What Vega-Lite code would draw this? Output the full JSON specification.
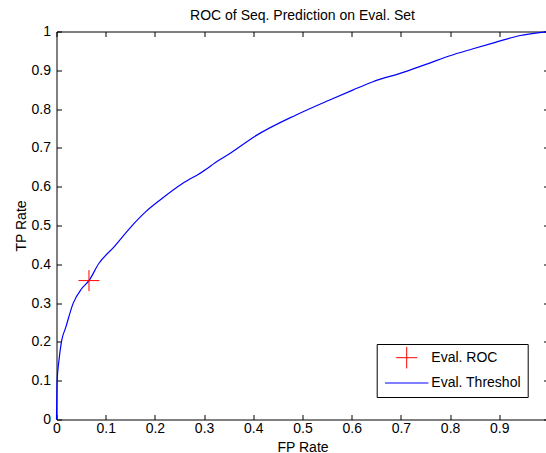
{
  "$schema": "https://vega.github.io/schema/vega-lite/v6.json",
  "width": 492,
  "height": 388,
  "autosize": {"type": "none"},
  "padding": {"left": 56.5, "top": 31.5, "right": 0, "bottom": 33.5},
  "background": "white",
  "title": {
    "text": "ROC of Seq. Prediction on Eval. Set",
    "font": "Liberation Sans",
    "fontSize": 14,
    "fontWeight": "normal",
    "color": "black",
    "baseline": "alphabetic",
    "offset": -9.5,
    "anchor": "middle"
  },
  "datasets": {
    "roc": [
      {"x": 0, "y": 0},
      {"x": 0.0005, "y": 0.05},
      {"x": 0.0013, "y": 0.1},
      {"x": 0.005, "y": 0.152},
      {"x": 0.010, "y": 0.2},
      {"x": 0.019, "y": 0.238},
      {"x": 0.034, "y": 0.300},
      {"x": 0.051, "y": 0.337},
      {"x": 0.066, "y": 0.358},
      {"x": 0.086, "y": 0.402},
      {"x": 0.117, "y": 0.445},
      {"x": 0.151, "y": 0.496},
      {"x": 0.181, "y": 0.535},
      {"x": 0.215, "y": 0.570},
      {"x": 0.256, "y": 0.608},
      {"x": 0.296, "y": 0.638},
      {"x": 0.330, "y": 0.668},
      {"x": 0.354, "y": 0.687},
      {"x": 0.402, "y": 0.729},
      {"x": 0.487, "y": 0.785},
      {"x": 0.554, "y": 0.823},
      {"x": 0.602, "y": 0.849},
      {"x": 0.642, "y": 0.870},
      {"x": 0.703, "y": 0.894},
      {"x": 0.757, "y": 0.918},
      {"x": 0.798, "y": 0.937},
      {"x": 0.845, "y": 0.955},
      {"x": 0.892, "y": 0.972},
      {"x": 0.940, "y": 0.989},
      {"x": 1.0, "y": 1.0}
    ],
    "pt": [
      {"x": 0.066, "y": 0.358}
    ]
  },
  "layer": [
    {
      "data": {"name": "roc"},
      "mark": {"type": "line", "strokeWidth": 1.2, "interpolate": "monotone"},
      "encoding": {
        "x": {
          "field": "x", "type": "quantitative",
          "scale": {"domain": [0, 1], "nice": false, "zero": false},
          "axis": {
            "orient": "bottom",
            "values": [0, 0.1, 0.2, 0.3, 0.4, 0.5, 0.6, 0.7, 0.8, 0.9],
            "format": "~g",
            "title": "FP Rate",
            "titleBaseline": "alphabetic",
            "titleY": 31.5,
            "labelPadding": 7
          }
        },
        "y": {
          "field": "y", "type": "quantitative",
          "scale": {"domain": [0, 1], "nice": false, "zero": false},
          "axis": {
            "orient": "left",
            "values": [0, 0.1, 0.2, 0.3, 0.4, 0.5, 0.6, 0.7, 0.8, 0.9, 1],
            "format": "~g",
            "title": "TP Rate",
            "titleBaseline": "alphabetic",
            "titleX": -31,
            "labelPadding": 11
          }
        },
        "color": {
          "datum": "Eval. Threshol",
          "type": "nominal",
          "scale": {"domain": ["Eval. ROC", "Eval. Threshol"], "range": ["#ff0000", "#0000ff"]},
          "legend": {
            "orient": "none",
            "legendX": 320.2,
            "legendY": 312.5,
            "title": null,
            "padding": 6.7,
            "strokeColor": "black",
            "fillColor": "white",
            "symbolSize": 169,
            "symbolStrokeWidth": 1,
            "symbolOffset": 16.3,
            "labelOffset": 17.6,
            "rowPadding": 5.3,
            "labelFont": "Liberation Sans",
            "labelFontSize": 14,
            "labelColor": "black",
            "labelLimit": 300,
            "encode": {
              "symbols": {
                "update": {
                  "shape": {"signal": "datum.value === 'Eval. ROC' ? 'M-1.615,0H1.615M0,-1.65V1.65' : 'M-3.34,0H3.34'"},
                  "fill": {"value": "transparent"},
                  "stroke": {"signal": "datum.value === 'Eval. ROC' ? '#ff0000' : '#0000ff'"},
                  "strokeWidth": {"value": 1},
                  "opacity": {"value": 1}
                }
              }
            }
          }
        }
      }
    },
    {
      "data": {"name": "pt"},
      "mark": {"type": "point", "shape": "M-1,0H1M0,-1V1", "size": 441, "filled": false, "strokeWidth": 1, "opacity": 1},
      "encoding": {
        "x": {
          "field": "x", "type": "quantitative",
          "axis": {
            "orient": "top",
            "values": [0, 0.1, 0.2, 0.3, 0.4, 0.5, 0.6, 0.7, 0.8, 0.9, 1],
            "labels": false,
            "title": null,
            "minExtent": 0,
            "maxExtent": 0
          }
        },
        "y": {
          "field": "y", "type": "quantitative",
          "axis": {
            "orient": "right",
            "values": [0, 0.1, 0.2, 0.3, 0.4, 0.5, 0.6, 0.7, 0.8, 0.9, 1],
            "labels": false,
            "title": null,
            "minExtent": 0,
            "maxExtent": 0
          }
        },
        "color": {"datum": "Eval. ROC", "type": "nominal"}
      }
    }
  ],
  "resolve": {"axis": {"x": "independent", "y": "independent"}},
  "config": {
    "view": {"stroke": null},
    "font": "Liberation Sans",
    "axis": {
      "grid": false,
      "domainColor": "black",
      "domainWidth": 1,
      "tickColor": "black",
      "tickWidth": 1,
      "tickSize": -5,
      "labelFont": "Liberation Sans",
      "labelFontSize": 14,
      "labelColor": "black",
      "labelFlush": false,
      "labelOverlap": false,
      "titleFont": "Liberation Sans",
      "titleFontSize": 14,
      "titleFontWeight": "normal",
      "titleColor": "black"
    }
  }
}
